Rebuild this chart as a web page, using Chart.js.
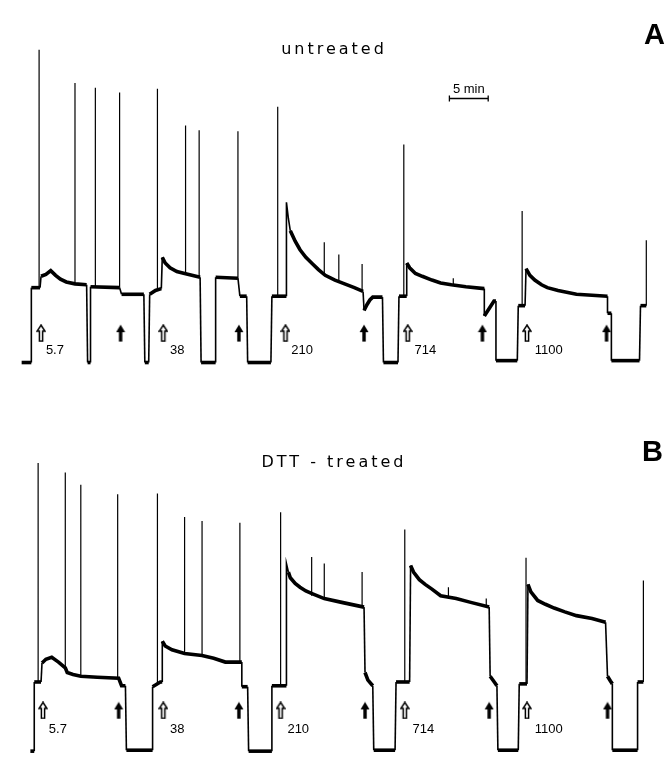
<!DOCTYPE html>
<html>
<head>
<meta charset="utf-8">
<script src="https://cdn.jsdelivr.net/npm/chart.js@4.4.0/dist/chart.umd.min.js"></script>
<style>
html,body{margin:0;padding:0;background:#fff;}
#wrap{position:relative;width:666px;height:764px;overflow:hidden;}
.box{position:absolute;left:0;width:666px;height:382px;}
</style>
</head>
<body>
<div id="wrap">
  <div class="box" style="top:0"><canvas id="cA"></canvas></div>
  <div class="box" style="top:382px"><canvas id="cB"></canvas></div>
</div>
<script>
// ---------- DATA (x: position along recording; y: deflection above zero level) ----------
// Panel A – untreated
const traceA_x = [12,22,22,31,32,37,42,47,52,58,67,79,80,83,83,113,115,138,139,143,144,150,156,157,160,165,172,180,196,197,212,212,235,237,244,245,269,270,285,285,287,289,294,299,305,312,318,325,335,345,355,364,365,368,371,374,384,385,400,401,409,409,412,418,425,435,444,455,470,489,489,499,501,501,523,524,531,532,536,541,548,554,565,584,600,616,616,620,620,649,650,656];
const traceA_y = [0,0,79,79,91,93,97,92,88,85,83,82,0,0,80,79,72,72,0,0,72,76,78,111,105,100,96,94,90,0,0,90,89,70,70,0,0,70,70,169,152,139,128,119,111,104,98,92,87,83,79,75,55,61,66,69,69,0,0,70,70,105,100,94,91,87,84,82,80,78,49,65,65,2,2,60,60,99,92,87,82,79,76,72,71,70,52,52,2,2,60,60];
const spikeA_x    = [30,67,88,113,152,181,195,235,276,324,339,363,406,457,528,656];
const spikeA_base = [79,83,80,79,77,94,90,89,70,92,86,75,70,82,60,60];
const spikeA_top  = [330,295,290,285,289,250,245,244,270,127,114,104,230,89,160,129];
const openArrowA_x   = [32,158,284,410,533];
const filledArrowA_x = [114,236,365,487,615];
const concLabels     = ['5.7','38','210','714','1100'];
const concLabelA_x   = [37,165,290,417,541];

// Panel B – DTT-treated
const traceB_x = [21,25,25,32,33,37,43,50,57,59,65,73,90,112,115,119,120,147,147,155,157,157,160,167,180,198,210,222,239,239,245,246,270,270,285,285,287,289,294,299,305,312,324,342,365,366,369,374,375,397,398,412,413,416,422,428,435,444,460,475,494,495,500,502,503,524,525,533,534,537,544,552,561,572,584,600,614,616,619,621,621,647,647,653];
const traceB_y = [0,0,73,73,93,97,99,94,88,83,81,79,78,77,69,69,1,1,68,73,73,116,111,107,103,101,98,94,94,68,68,0,0,69,69,198,189,183,177,173,169,166,161,157,152,83,75,69,1,1,73,73,196,189,181,176,171,164,161,157,152,79,72,69,1,1,71,71,176,168,159,155,151,147,143,140,136,79,74,71,1,1,73,73];
const spikeB_x    = [29,57,73,111,152,180,198,237,279,311,324,363,407,452,491,532,653];
const spikeB_base = [73,88,79,77,71,103,101,94,69,164,161,153,73,162,153,71,73];
const spikeB_top  = [304,294,281,271,272,247,243,241,252,205,198,189,234,173,161,204,180];
const openArrowB_x   = [34,158,279,407,533];
const filledArrowB_x = [112,236,366,494,616];
const concLabelB_x   = [40,165,286,415,541];

// ---------- arrow glyph images ----------
function makeArrow(open){
  const c=document.createElement('canvas'); c.width=10; c.height=18;
  const g=c.getContext('2d');
  g.beginPath();
  if(open){
    g.moveTo(5,1); g.lineTo(9,7); g.lineTo(6.6,7); g.lineTo(6.6,17); g.lineTo(3.4,17); g.lineTo(3.4,7); g.lineTo(1,7); g.closePath();
    g.fillStyle='#fff'; g.fill(); g.lineWidth=1.5; g.strokeStyle='#000'; g.stroke();
  } else {
    g.moveTo(5,0.5); g.lineTo(9.5,8); g.lineTo(6.7,8); g.lineTo(6.7,17.5); g.lineTo(3.3,17.5); g.lineTo(3.3,8); g.lineTo(0.5,8); g.closePath();
    g.fillStyle='#000'; g.fill();
  }
  return c;
}
const openImg=makeArrow(true), fillImg=makeArrow(false);

function pts(xs,ys){return xs.map((x,i)=>({x:x,y:ys[i]}));}
function spikePts(xs,base,top){
  const out=[];
  xs.forEach((x,i)=>{out.push({x:x,y:base[i]},{x:x,y:top[i]},{x:x,y:null});});
  return out;
}

const annot = {
  id:'annot',
  afterDatasetsDraw(chart, args, o){
    const ctx=chart.ctx, xs=chart.scales.x, ys=chart.scales.y;
    ctx.save();
    ctx.fillStyle='#000'; ctx.strokeStyle='#000';
    // concentration labels
    ctx.font='13px "Liberation Sans", Arial, sans-serif';
    ctx.textAlign='left'; ctx.textBaseline='alphabetic';
    o.labelX.forEach((x,i)=>ctx.fillText(concLabels[i], xs.getPixelForValue(x), ys.getPixelForValue(o.labelY)));
    // panel title
    ctx.font='16px "DejaVu Sans", sans-serif';
    try{ctx.letterSpacing='3px';}catch(e){}
    ctx.textAlign='center';
    ctx.fillText(o.title, 334, o.titleY);
    try{ctx.letterSpacing='0px';}catch(e){}
    // panel letter
    ctx.font='bold 29px "Liberation Sans", Arial, sans-serif';
    ctx.textAlign='left';
    ctx.fillText(o.letter, o.letterX, o.letterY);
    // time scale bar
    if(o.scaleBar){
      const x0=xs.getPixelForValue(453), x1=xs.getPixelForValue(493), yb=98.5;
      ctx.lineWidth=1.3;
      ctx.beginPath(); ctx.moveTo(x0,yb); ctx.lineTo(x1,yb);
      ctx.moveTo(x0,yb-3); ctx.lineTo(x0,yb+3); ctx.moveTo(x1,yb-3); ctx.lineTo(x1,yb+3); ctx.stroke();
      ctx.font='13px "Liberation Sans", Arial, sans-serif';
      ctx.textAlign='center';
      ctx.fillText('5 min',(x0+x1)/2,93);
    }
    ctx.restore();
  }
};

function makeChart(id, tx, ty, sx, sb, st, ox, fx, arrowY, yMin, yMax, annotOpts){
  return new Chart(document.getElementById(id), {
    type:'line',
    data:{datasets:[
      {label:'trace', data:pts(tx,ty), borderColor:'#000', borderWidth:3.6, pointRadius:0, tension:0,
       borderJoinStyle:'miter', borderCapStyle:'butt',
       segment:{borderWidth:c=>{const dx=Math.abs(c.p1.x-c.p0.x), dy=Math.abs(c.p1.y-c.p0.y); return dx<dy*0.3?1.6:3.6;}}},
      {label:'spikes', data:spikePts(sx,sb,st), borderColor:'#000', borderWidth:1.2, pointRadius:0, spanGaps:false, tension:0},
      {label:'open arrows', data:ox.map(x=>({x:x,y:arrowY})), showLine:false, pointStyle:openImg, pointRadius:9},
      {label:'filled arrows', data:fx.map(x=>({x:x,y:arrowY})), showLine:false, pointStyle:fillImg, pointRadius:9}
    ]},
    options:{
      responsive:true, maintainAspectRatio:false, animation:false, devicePixelRatio:1,
      layout:{padding:0},
      events:[],
      scales:{
        x:{type:'linear', min:0, max:666, display:false},
        y:{type:'linear', min:yMin, max:yMax, display:false}
      },
      plugins:{legend:{display:false}, tooltip:{enabled:false}, annot:annotOpts}
    },
    plugins:[annot]
  });
}

makeChart('cA', traceA_x, traceA_y, spikeA_x, spikeA_base, spikeA_top, openArrowA_x, filledArrowA_x, 31, -10, 372,
  {labelX:concLabelA_x, labelY:9, title:'untreated', titleY:54, letter:'A', letterX:644, letterY:44, scaleBar:true});
makeChart('cB', traceB_x, traceB_y, spikeB_x, spikeB_base, spikeB_top, openArrowB_x, filledArrowB_x, 43, -3, 379,
  {labelX:concLabelB_x, labelY:19, title:'DTT - treated', titleY:85, letter:'B', letterX:642, letterY:79, scaleBar:false});
</script>
</body>
</html>
